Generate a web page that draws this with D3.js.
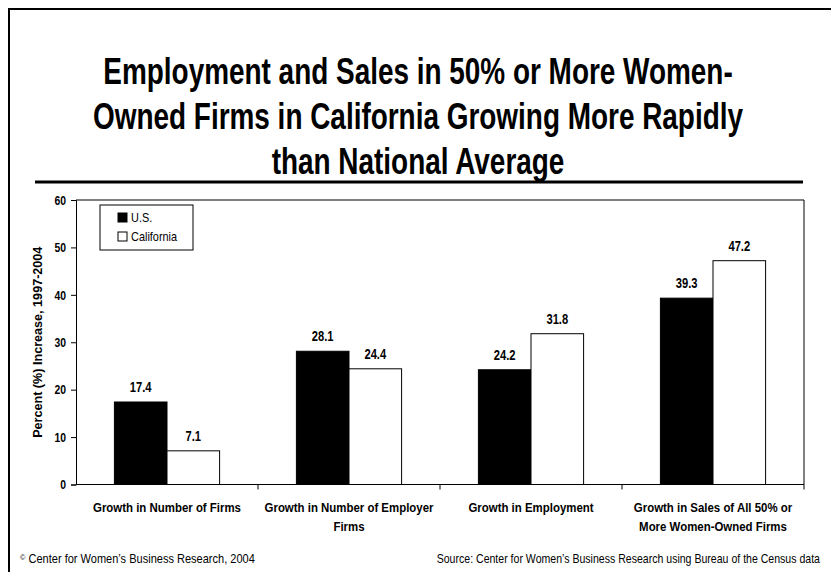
<!DOCTYPE html>
<html>
<head>
<meta charset="utf-8">
<script src="https://cdn.jsdelivr.net/npm/d3@7"></script>
<style>
  body { margin: 0; background: #fff; }
  svg text { font-family: "Liberation Sans", Arial, sans-serif; fill: #000; }
  .title { font-size: 37px; font-weight: bold; }
  .tick text { font-size: 13px; font-weight: bold; }
  .ylabel { font-size: 13px; font-weight: bold; }
  .cat { font-size: 13px; font-weight: bold; }
  .val { font-size: 14px; font-weight: bold; }
  .leg { font-size: 13px; }
  .foot { font-size: 12px; }
</style>
</head>
<body>
<div class="canvas"></div>
<script>

var categories = [
  ["Growth in Number of Firms"],
  ["Growth in Number of Employer", "Firms"],
  ["Growth in Employment"],
  ["Growth in Sales of All 50% or", "More Women-Owned Firms"]
];
var series = ["U.S.", "California"];
var usValues = [17.4, 28.1, 24.2, 39.3];
var caValues = [7.1, 24.4, 31.8, 47.2];
var yTicks = [0, 10, 20, 30, 40, 50, 60];
var titleLines = [
  "Employment and Sales in 50% or More Women-",
  "Owned Firms in California Growing More Rapidly",
  "than National Average"
];

var W = 831, H = 572;
var plotL = 76, plotR = 804, plotT = 200, plotB = 484.5;
var SQ = 0.8;   // horizontal squeeze, the original uses a condensed face

var svg = d3.select(".canvas")
            .append("svg")
            .attr("width", W)
            .attr("height", H);

// text helper: squeezed horizontally to fake a condensed font
function ctext(parent, x, y, str, cls, anchor, sx, extra){
  return parent.append("text")
     .attr("class", cls)
     .attr("text-anchor", anchor || "start")
     .attr("transform", "translate(" + x + "," + y + ")" + (extra || "") + " scale(" + (sx || SQ) + ",1)")
     .text(str);
}

// outer frame (top + left only)
svg.append("path")
   .attr("d", "M9,572 L9,9 L831,9")
   .attr("fill", "none")
   .attr("stroke", "#000")
   .attr("stroke-width", 2);

// TITLE
titleLines.forEach(function(t, i){
  ctext(svg, 418, 84 + i * 45, t, "title", "middle", 0.755);
});

svg.append("line")
   .attr("x1", 35).attr("y1", 182)
   .attr("x2", 803).attr("y2", 182)
   .attr("stroke", "#000")
   .attr("stroke-width", 3);

// SCALES
var idx = categories.map(function(d, i){ return i; });

var x0 = d3.scaleBand()
           .domain(idx)
           .range([plotL, plotR])
           .padding(0);

var x1 = d3.scaleBand()
           .domain(series)
           .range([0, x0.bandwidth()])
           .paddingInner(0)
           .paddingOuter(0.73);

var y = d3.scaleLinear()
          .domain([0, 60])
          .range([plotB, plotT]);

// plot area border (top + right)
svg.append("path")
   .attr("d", "M" + plotL + "," + y(60) + " L" + plotR + "," + y(60) + " L" + plotR + "," + y(0))
   .attr("fill", "none")
   .attr("stroke", "#000")
   .attr("stroke-width", 1);

// BARS
var rows = idx.map(function(i){
  return [
    {cat: i, s: "U.S.", v: usValues[i]},
    {cat: i, s: "California", v: caValues[i]}
  ];
});

var groups = svg.selectAll("g.grp")
                .data(rows)
                .enter()
                .append("g")
                .attr("class", "grp")
                .attr("transform", function(d, i){ return "translate(" + x0(i) + ",0)"; });

groups.selectAll("rect")
      .data(function(d){ return d; })
      .enter()
      .append("rect")
      .attr("x", function(d){ return x1(d.s); })
      .attr("y", function(d){ return y(d.v); })
      .attr("width", x1.bandwidth())
      .attr("height", function(d){ return y(0) - y(d.v); })
      .attr("fill", function(d){ return d.s == "U.S." ? "#000" : "#fff"; })
      .attr("stroke", "#000")
      .attr("stroke-width", 1);

groups.each(function(d){
  var g = d3.select(this);
  d.forEach(function(b){
    ctext(g, x1(b.s) + x1.bandwidth() / 2, y(b.v) - 10, b.v.toFixed(1), "val", "middle");
  });
});

// AXES
var yAxis = svg.append("g")
               .attr("transform", "translate(" + plotL + ",0)")
               .call(d3.axisLeft(y).tickValues(yTicks).tickSize(5).tickPadding(7));
yAxis.select(".domain").attr("stroke", "#000");
yAxis.selectAll(".tick text")
     .attr("transform", "scale(" + SQ + ",1)")
     .attr("x", -10 / SQ);

var xAxis = svg.append("g")
               .attr("transform", "translate(0," + y(0) + ")")
               .call(d3.axisBottom(x0).tickSize(0).tickFormat(""));
xAxis.select(".domain").attr("d", "M" + plotL + ",0H" + plotR);

// category ticks between groups
xAxis.selectAll("line.sep")
     .data(idx)
     .enter()
     .append("line")
     .attr("class", "sep")
     .attr("x1", function(i){ return x0(i) + x0.bandwidth(); })
     .attr("x2", function(i){ return x0(i) + x0.bandwidth(); })
     .attr("y1", 0)
     .attr("y2", 5)
     .attr("stroke", "#000");

// category labels
categories.forEach(function(lines, i){
  lines.forEach(function(l, j){
    ctext(svg, x0(i) + x0.bandwidth() / 2, 512 + j * 19, l, "cat", "middle", 0.88);
  });
});

// Y LABEL
ctext(svg, 42, (plotT + plotB) / 2, "Percent (%) Increase, 1997-2004", "ylabel", "middle", 0.97, " rotate(-90)");

// LEGEND
svg.append("rect")
   .attr("x", 100).attr("y", 205)
   .attr("width", 93).attr("height", 45)
   .attr("fill", "#fff")
   .attr("stroke", "#000");

series.forEach(function(s, i){
  svg.append("rect")
     .attr("x", 118).attr("y", 213 + i * 19)
     .attr("width", 9).attr("height", 9)
     .attr("fill", i == 0 ? "#000" : "#fff")
     .attr("stroke", "#000");
  ctext(svg, 131, 222 + i * 19, s, "leg", "start", 0.84);
});

// FOOTER
var f = ctext(svg, 20, 563, "", "foot", "start", 0.92);
f.append("tspan").attr("font-size", "8px").attr("dy", -3).text("©");
f.append("tspan").attr("dy", 3).text(" Center for Women\u2019s Business Research, 2004");

ctext(svg, 820, 563, "Source: Center for Women\u2019s Business Research using Bureau of the Census data", "foot", "end", 0.88);

</script>
</body>
</html>
